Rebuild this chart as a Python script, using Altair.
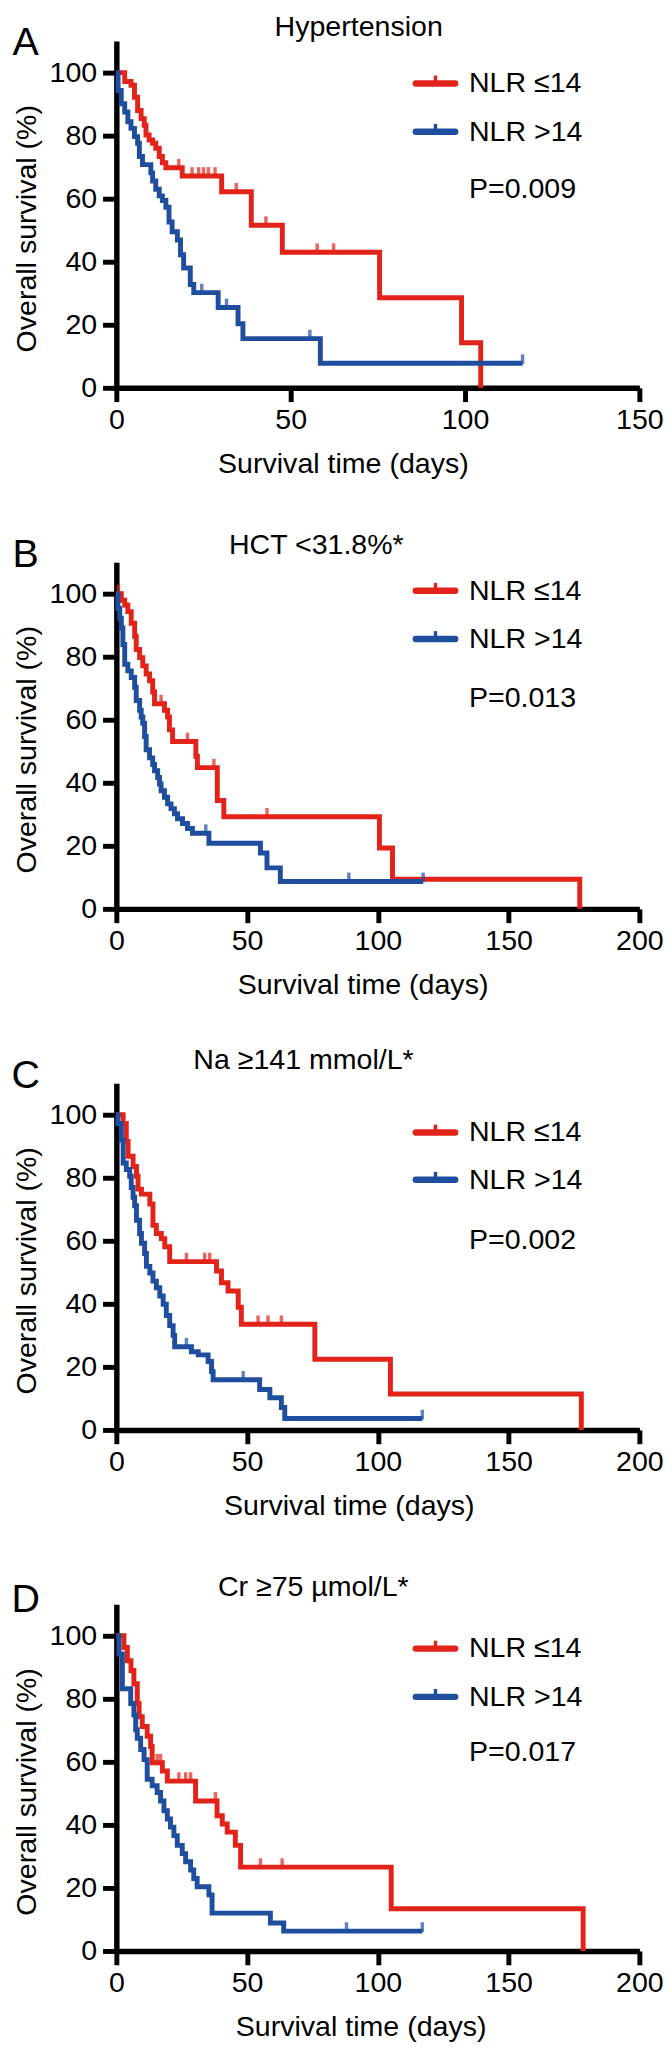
import altair as alt
import pandas as pd

FONT = "Liberation Sans"
RED = "#E2231A"
BLUE = "#1F4E9F"

# ---------------- text content ----------------
LETTERS = ["A", "B", "C", "D"]
TITLES = ["Hypertension", "HCT <31.8%*", "Na \u2265141 mmol/L*", "Cr \u226575 \u00b5mol/L*"]
P_TEXTS = ["P=0.009", "P=0.013", "P=0.002", "P=0.017"]
LEGEND_LABELS = ["NLR \u226414", "NLR >14"]
X_TITLE = "Survival time (days)"
Y_TITLE = "Overall survival (%)"
Y_TICKS = [0, 20, 40, 60, 80, 100]
X_MAX = [150, 200, 200, 200]
X_TICKS = [[0, 50, 100, 150], [0, 50, 100, 150, 200], [0, 50, 100, 150, 200], [0, 50, 100, 150, 200]]

# ---------------- Panel A: Hypertension ----------------
A_RED_T = [2.4, 4.2, 5.2, 6.1, 7.1, 8.0, 8.5, 9.4, 10.4, 11.3, 12.3, 13.2, 14.2, 18.9, 30.2, 38.7, 47.6, 75.5, 99.0, 104.5]
A_RED_S = [97.2, 96.0, 92.2, 88.0, 85.4, 83.3, 80.2, 78.6, 77.6, 76.0, 73.4, 71.4, 69.8, 67.2, 62.2, 51.6, 43.0, 28.6, 14.3, 0.0]
A_RED_END = None
A_RED_CENS = [17.9, 21.7, 23.6, 25.0, 26.4, 28.3, 34.4, 42.9, 57.6, 62.3]
A_BLUE_T = [0.5, 1.4, 2.4, 3.3, 4.2, 5.2, 6.1, 6.6, 7.5, 9.9, 10.4, 11.3, 12.3, 13.2, 14.2, 15.1, 16.0, 17.5, 18.4, 19.3, 21.2, 22.2, 29.2, 34.9, 36.3, 58.5]
A_BLUE_S = [94.3, 90.1, 87.5, 84.4, 82.3, 79.7, 77.6, 73.4, 70.8, 68.2, 65.6, 63.0, 60.9, 59.4, 57.3, 52.6, 49.5, 46.9, 42.2, 38.0, 32.8, 30.2, 25.5, 20.3, 15.6, 7.8]
A_BLUE_END = 116.5
A_BLUE_CENS = [24.5, 31.6, 55.5, 116.5]

# ---------------- Panel B: HCT ----------------
B_RED_T = [1.9, 3.2, 4.4, 5.7, 7.0, 7.6, 8.9, 10.1, 11.4, 12.7, 13.9, 14.6, 18.4, 19.6, 20.3, 21.5, 30.4, 31.0, 38.6, 41.1, 100.6, 105.6, 177.2]
B_RED_S = [97.9, 96.4, 94.3, 90.6, 86.5, 82.3, 79.7, 77.1, 74.5, 72.4, 68.8, 65.1, 63.0, 60.9, 56.8, 53.1, 48.4, 44.8, 34.4, 29.2, 19.3, 9.4, 0.0]
B_RED_END = None
B_RED_CENS = [0.8, 17.1, 27.2, 37.3, 57.6]
B_BLUE_T = [0.6, 1.3, 1.9, 2.5, 3.2, 4.4, 5.7, 7.0, 7.6, 8.9, 9.5, 10.1, 10.8, 11.4, 12.7, 13.9, 14.6, 15.8, 16.5, 17.1, 18.4, 19.6, 20.9, 22.2, 23.4, 25.3, 27.2, 29.1, 35.4, 55.1, 57.6, 62.7]
B_BLUE_S = [95.3, 92.2, 89.1, 83.9, 77.6, 75.5, 73.4, 70.3, 66.1, 63.0, 60.9, 58.9, 54.7, 50.5, 47.9, 45.8, 43.8, 41.7, 39.6, 37.5, 35.4, 33.3, 31.8, 30.2, 28.6, 27.1, 25.5, 24.0, 20.8, 17.7, 13.0, 8.7]
B_BLUE_END = 117.3
B_BLUE_CENS = [34.2, 88.9, 117.3]

# ---------------- Panel C: Na ----------------
C_RED_T = [2.6, 3.8, 4.5, 6.4, 7.7, 8.3, 9.6, 12.8, 14.0, 15.3, 17.2, 18.5, 20.4, 38.3, 40.2, 42.7, 46.6, 47.8, 75.9, 104.8, 177.8]
C_RED_S = [97.2, 91.5, 86.8, 83.6, 80.5, 76.4, 74.8, 71.7, 64.9, 62.3, 60.7, 58.1, 53.4, 50.4, 46.7, 44.1, 38.9, 33.5, 22.4, 11.4, 0.0]
C_RED_END = None
C_RED_CENS = [26.8, 33.8, 35.7, 54.2, 58.0, 63.1]
C_BLUE_T = [0.6, 1.9, 2.6, 3.8, 5.1, 5.7, 6.4, 7.0, 7.7, 8.9, 9.6, 10.8, 11.5, 12.8, 14.0, 15.3, 16.6, 17.9, 19.1, 20.4, 21.7, 22.3, 28.7, 31.3, 35.1, 36.4, 37.0, 54.8, 58.7, 63.1, 64.4]
C_BLUE_S = [97.2, 92.0, 84.7, 82.6, 80.5, 76.9, 73.8, 71.1, 66.5, 62.3, 59.2, 56.0, 51.9, 49.8, 47.2, 45.1, 42.5, 39.9, 36.3, 33.1, 30.0, 26.4, 24.8, 23.8, 21.7, 18.5, 15.9, 12.8, 10.2, 7.1, 3.6]
C_BLUE_END = 117.0
C_BLUE_CENS = [26.8, 48.5, 117.0]

# ---------------- Panel D: Cr ----------------
D_RED_T = [2.9, 4.2, 5.6, 6.7, 8.0, 8.7, 9.9, 11.8, 13.1, 13.7, 17.6, 19.5, 30.3, 38.5, 40.5, 42.4, 45.5, 47.5, 105.1, 178.5]
D_RED_S = [96.3, 92.1, 89.0, 84.8, 78.5, 74.3, 71.2, 68.1, 64.9, 59.7, 57.1, 53.9, 47.6, 42.9, 40.3, 37.7, 33.5, 26.6, 13.4, 0.0]
D_RED_END = None
D_RED_CENS = [15.6, 16.9, 23.9, 26.5, 28.4, 37.9, 55.1, 63.4]
D_BLUE_T = [1.0, 2.3, 5.5, 6.7, 7.4, 8.0, 9.3, 10.6, 11.8, 13.7, 15.6, 16.9, 18.2, 19.5, 20.7, 22.0, 23.3, 25.2, 26.5, 28.4, 29.6, 30.9, 35.4, 36.6, 58.9, 64.0]
D_BLUE_S = [94.2, 83.2, 78.5, 74.9, 70.2, 67.5, 63.9, 60.7, 54.5, 52.4, 50.3, 47.6, 44.5, 41.9, 39.3, 36.6, 33.5, 30.9, 28.3, 25.7, 23.0, 20.4, 17.8, 12.0, 8.9, 6.3]
D_BLUE_END = 117.0
D_BLUE_CENS = [88.0, 117.0]

PANELS = [
    (A_RED_T, A_RED_S, A_RED_END, A_RED_CENS, A_BLUE_T, A_BLUE_S, A_BLUE_END, A_BLUE_CENS),
    (B_RED_T, B_RED_S, B_RED_END, B_RED_CENS, B_BLUE_T, B_BLUE_S, B_BLUE_END, B_BLUE_CENS),
    (C_RED_T, C_RED_S, C_RED_END, C_RED_CENS, C_BLUE_T, C_BLUE_S, C_BLUE_END, C_BLUE_CENS),
    (D_RED_T, D_RED_S, D_RED_END, D_RED_CENS, D_BLUE_T, D_BLUE_S, D_BLUE_END, D_BLUE_CENS),
]

# ---------------- annotation layout (pixels inside each plot) ----------------
PLOT_W = 531
PLOT_H = 352
TITLE_X = [246, 203, 190, 200]
TITLE_Y = [-14, -17, -23, -17]
LETTER_X = -92
LETTER_Y = [2, -7, -7, -4]
LEG_RED_Y = [43, 29, 50, 45]
LEG_BLUE_Y = [92, 78, 98, 94]
P_Y = [150, 138, 159, 150]
LEG_X1, LEG_X2, LEG_TX = 304, 344, 358
X_TITLE_X = [230, 250, 236, 248]


def km_frame(t, s, end):
    xs = [0.0] + list(t)
    ys = [100.0] + list(s)
    if end is not None:
        xs.append(end)
        ys.append(ys[-1])
    return pd.DataFrame({"t": xs, "s": ys})


def censor_frame(cens, t, s):
    rows = []
    for c in cens:
        level = 100.0
        for ti, si in zip(t, s):
            if ti <= c:
                level = si
        rows.append({"t": c, "s": level})
    return pd.DataFrame(rows)


def text_layer(label, x, y, size, align="left"):
    return alt.Chart(pd.DataFrame({"label": [label]})).mark_text(
        align=align, baseline="middle", font=FONT, fontSize=size, color="black"
    ).encode(x=alt.value(x), y=alt.value(y), text="label:N")


def legend_entry(color, y):
    one = pd.DataFrame({"k": [0]})
    line = alt.Chart(one).mark_rule(color=color, strokeWidth=6.5, strokeCap="round").encode(
        x=alt.value(LEG_X1), x2=alt.value(LEG_X2), y=alt.value(y))
    tick = alt.Chart(one).mark_rule(color=color, strokeWidth=3.5).encode(
        x=alt.value((LEG_X1 + LEG_X2) / 2), y=alt.value(y - 8), y2=alt.value(y))
    return [line, tick]


def panel(i):
    rt, rs, rend, rc, bt, bs, bend, bc = PANELS[i]
    x_enc = alt.X("t:Q",
                  scale=alt.Scale(domain=[0, X_MAX[i]], nice=False, zero=True),
                  axis=alt.Axis(values=X_TICKS[i], title=X_TITLE, titleX=X_TITLE_X[i], titleY=77,
                                titleBaseline="middle", titleAlign="center",
                                labelFlush=False, labelPadding=4, tickSize=14))
    y_enc = alt.Y("s:Q",
                  scale=alt.Scale(domain=[0, 110], nice=False),
                  axis=alt.Axis(values=Y_TICKS, title=Y_TITLE, titleX=-91, titleY=190,
                                titleBaseline="middle", titleAlign="center",
                                labelPadding=6, tickSize=14))
    layers = []
    for t, s, end, cens, color in [(rt, rs, rend, rc, RED), (bt, bs, bend, bc, BLUE)]:
        layers.append(alt.Chart(km_frame(t, s, end)).mark_line(
            interpolate="step-after", color=color, strokeWidth=5, strokeJoin="miter"
        ).encode(x=x_enc, y=y_enc))
        layers.append(alt.Chart(censor_frame(cens, t, s)).mark_tick(
            orient="vertical", color=color, thickness=3.5, size=10, yOffset=-4
        ).encode(x=x_enc, y=y_enc))
    layers += legend_entry(RED, LEG_RED_Y[i])
    layers += legend_entry(BLUE, LEG_BLUE_Y[i])
    layers.append(text_layer(LEGEND_LABELS[0], LEG_TX, LEG_RED_Y[i], 29))
    layers.append(text_layer(LEGEND_LABELS[1], LEG_TX, LEG_BLUE_Y[i], 29))
    layers.append(text_layer(P_TEXTS[i], LEG_TX, P_Y[i], 29))
    layers.append(text_layer(TITLES[i], TITLE_X[i], TITLE_Y[i], 29, align="center"))
    layers.append(text_layer(LETTERS[i], LETTER_X, LETTER_Y[i], 40, align="center"))
    return alt.layer(*layers).properties(width=PLOT_W, height=PLOT_H)


chart = alt.vconcat(*[panel(i) for i in range(4)], spacing=177, bounds="flush").properties(
    padding={"left": 3, "top": -10, "right": 0, "bottom": -2}
).configure_view(stroke=None).configure_axis(
    grid=False,
    domainColor="black", domainWidth=5.5,
    tickColor="black", tickWidth=5,
    labelFont=FONT, labelFontSize=29, labelColor="black",
    titleFont=FONT, titleFontSize=29, titleFontWeight="normal", titleColor="black",
)

chart.save("out.html", embed_options={"renderer": "svg", "actions": False})
